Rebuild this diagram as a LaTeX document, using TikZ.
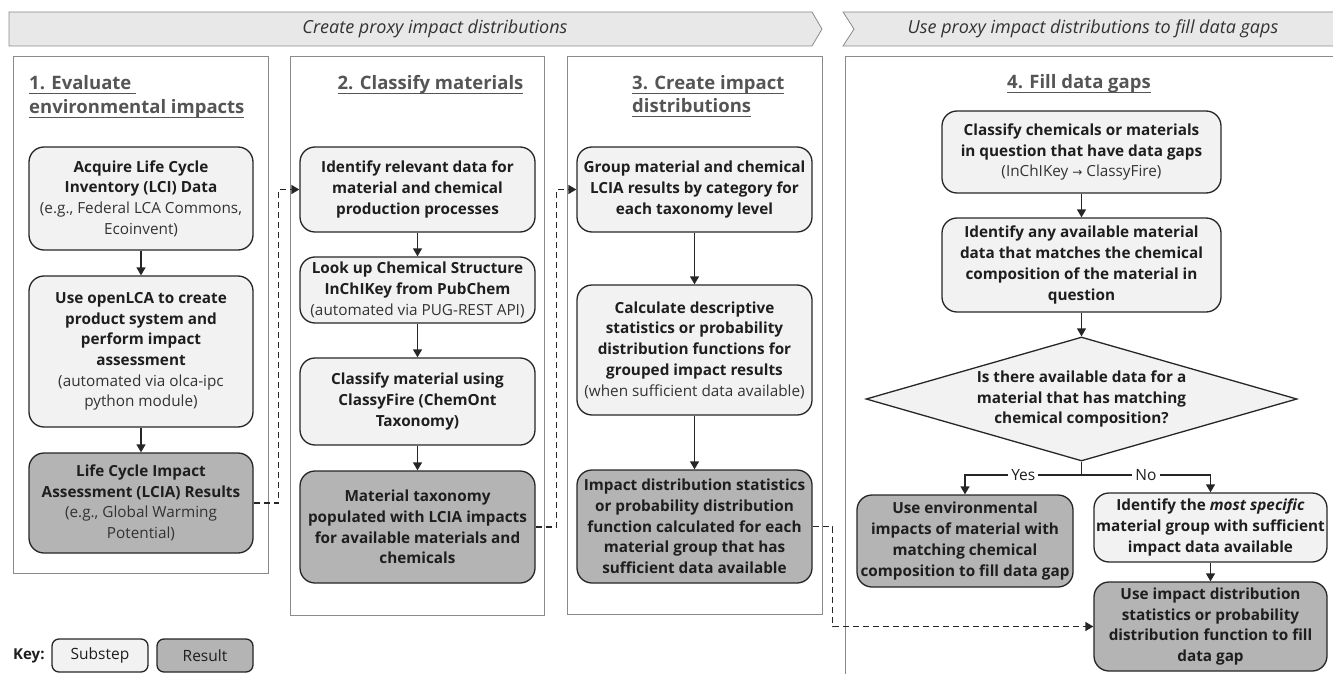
\documentclass[tikz,border=0pt]{standalone}
\usepackage{fontspec}
\setmainfont{Open Sans}
\newfontfamily\symfont{DejaVu Sans}
\usetikzlibrary{arrows.meta,shapes.geometric}
\definecolor{lightfill}{HTML}{F2F2F2}
\definecolor{darkfill}{HTML}{B4B4B4}
\definecolor{bannerfill}{HTML}{E8E8E8}
\definecolor{framegray}{HTML}{8A8A8A}
\definecolor{headgray}{HTML}{555555}
\definecolor{boxtext}{HTML}{1E1E1E}
\definecolor{regtext}{HTML}{333333}
\newcommand\hul[1]{\setbox0\hbox{#1}\rlap{\rule[-4pt]{\wd0}{1.2pt}}\box0}
\newcommand\rg[1]{{\mdseries\color{regtext}#1}}
\begin{document}
\begin{tikzpicture}[x=1pt,y=-1pt,
 sub/.style={draw=black!85,line width=1.3pt,rounded corners=15pt,fill=lightfill,align=center,text=boxtext,font=\fontsize{15.3}{20.7}\selectfont\bfseries,inner sep=0pt},
 res/.style={sub,fill=darkfill},
 frame/.style={draw=framegray,line width=1pt},
 banner/.style={draw=framegray,line width=0.8pt,fill=bannerfill},
 bantext/.style={font=\fontsize{18}{20}\selectfont\itshape,text=black!80},
 head/.style={font=\fontsize{18.5}{24}\selectfont\bfseries,text=headgray,anchor=base west,inner sep=0pt},
 arr/.style={draw=black!85,line width=1.3pt,-{Triangle[length=8pt,width=9pt]}},
 dasharr/.style={arr,dash pattern=on 6pt off 4pt},
 lbl/.style={fill=white,inner sep=3pt,font=\fontsize{15.5}{18}\selectfont,text=boxtext}]
\useasboundingbox (0,0) rectangle (1333,674);

% banners
\draw[banner] (9,12) -- (812,12) -- (822,29) -- (812,46) -- (9,46) -- cycle;
\draw[banner] (843,12) -- (1345,12) -- (1345,46) -- (843,46) -- (854,29) -- cycle;
\node[bantext] (bt1) at (435,29) {Create proxy impact distributions};
\node[bantext] (bt2) at (1093,29) {Use proxy impact distributions to fill data gaps};

% frames
\draw[frame] (13,57) rectangle (268,573);
\draw[frame] (290,57) rectangle (544,615);
\draw[frame] (567,57) rectangle (822,614);
\draw[frame] (845,690) -- (845,57) -- (1345,57);

% headers
\node[head] (h1a) at (29,90) {\hul{1. Evaluate\ }};
\node[head] (h1b) at (29,114) {\hul{environmental impacts}};
\node[head,anchor=base] (h2) at (430.5,90) {\hul{2. Classify materials}};
\node[head] (h3a) at (632,90) {\hul{3. Create impact}};
\node[head] (h3b) at (632,113) {\hul{distributions}};
\node[head] (h4) at (1007,89) {\hul{4. Fill data gaps}};

% column 1
\node[sub,minimum width=224,minimum height=103] (a1) at (141,198.5)
 {Acquire Life Cycle\\Inventory (LCI) Data\\\rg{(e.g., Federal LCA Commons,}\\\rg{Ecoinvent)}};
\node[sub,minimum width=224,minimum height=151] (a2) at (141,351.5)
 {Use openLCA to create\\product system and\\perform impact\\assessment\\\rg{(automated via olca-ipc}\\\rg{python module)}};
\node[res,minimum width=224,minimum height=100] (a3) at (141,503)
 {Life Cycle Impact\\Assessment (LCIA) Results\\\rg{(e.g., Global Warming}\\\rg{Potential)}};

% column 2
\node[sub,minimum width=235,minimum height=85] (b1) at (417.5,189.5)
 {Identify relevant data for\\material and chemical\\production processes};
\node[sub,minimum width=235,minimum height=66] (b2) at (417.5,290)
 {Look up Chemical Structure\\InChIKey from PubChem\\\rg{(automated via PUG-REST API)}};
\node[sub,minimum width=235,minimum height=87] (b3) at (417.5,401.5)
 {Classify material using\\ClassyFire (ChemOnt\\Taxonomy)};
\node[res,minimum width=235,minimum height=112] (b4) at (417.5,527)
 {Material taxonomy\\populated with LCIA impacts\\for available materials and\\chemicals};

% column 3
\node[sub,minimum width=235,minimum height=85] (c1) at (694.5,189.5)
 {Group material and chemical\\LCIA results by category for\\each taxonomy level};
\node[sub,minimum width=235,minimum height=130] (c2) at (694.5,350)
 {Calculate descriptive\\statistics or probability\\distribution functions for\\grouped impact results\\\rg{(when sufficient data available)}};
\node[res,minimum width=235,minimum height=113] (c3) at (694.5,526.5)
 {Impact distribution statistics\\or probability distribution\\function calculated for each\\material group that has\\sufficient data available};

% column 4
\node[sub,minimum width=279,minimum height=82] (d1) at (1081.5,152)
 {Classify chemicals or materials\\in question that have data gaps\\\rg{(InChIKey {\symfont\fontsize{12}{14}\selectfont →} ClassyFire)}};
\node[sub,minimum width=279,minimum height=94] (d2) at (1081.5,265)
 {Identify any available material\\data that matches the chemical\\composition of the material in\\question};
\node[sub,shape=diamond,rounded corners=0pt,aspect=3.48,minimum width=431,minimum height=124] (d3) at (1081.5,399)
 {Is there available data for a\\material that has matching\\chemical composition?};
\node[res,minimum width=216,minimum height=92] (d4) at (965,541)
 {Use environmental\\impacts of material with\\matching chemical\\composition to fill data gap};
\node[sub,minimum width=233,minimum height=69] (d5) at (1210.5,527.5)
 {Identify the \textit{most specific}\\material group with sufficient\\impact data available};
\node[res,minimum width=233,minimum height=89] (d6) at (1210.5,626.5)
 {Use impact distribution\\statistics or probability\\distribution function to fill\\data gap};

% key
\node[anchor=base west,inner sep=0pt,font=\fontsize{15}{18}\selectfont\bfseries,text=boxtext] (keylbl) at (13,659) {Key:};
\node[sub,rounded corners=7pt,minimum width=96,minimum height=33,font=\fontsize{15.5}{18}\selectfont] (ks) at (100,655.5) {Substep};
\node[res,rounded corners=7pt,minimum width=96,minimum height=33,font=\fontsize{15.5}{18}\selectfont] (kr) at (205,655.5) {Result};

% solid arrows
\draw[arr] (a1) -- (a2);
\draw[arr] (a2) -- (a3);
\draw[arr] (b1) -- (b2);
\draw[arr] (b2) -- (b3);
\draw[arr] (b3) -- (b4);
\draw[arr] (c1) -- (c2);
\draw[arr] (c2) -- (c3);
\draw[arr] (d1) -- (d2);
\draw[arr] (d2) -- (d3);
\draw[arr] (d5) -- (d6);
\coordinate (split) at (1081.5,475);
\draw[draw=black!85,line width=1.3pt] (d3.south) -- (split);
\draw[arr] (split) -- node[lbl]{Yes} (split -| d4.north) -- (d4.north);
\draw[arr] (split) -- node[lbl]{No} (split -| d5.north) -- (d5.north);

% dashed connectors
\draw[dasharr] (a3.east) -- ++(25,0) |- (b1.west);
\draw[dasharr] (b4.east) -- ++(21,0) |- (c1.west);
\draw[dasharr] (c3.east) -- ++(20,0) |- (d6.west);
\end{tikzpicture}
\end{document}
